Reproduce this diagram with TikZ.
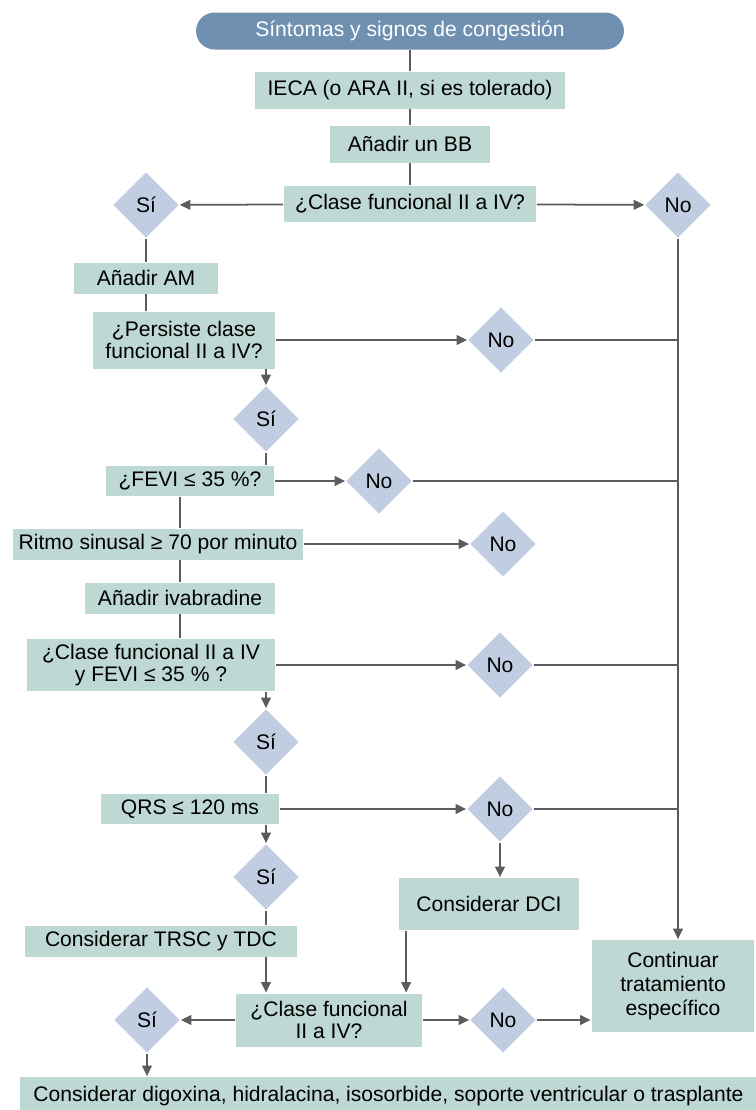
\documentclass[tikz,border=0pt]{standalone}
\usepackage{fontspec}
\setmainfont{Liberation Sans}
\usetikzlibrary{shapes.geometric,arrows.meta}
\definecolor{boxgreen}{RGB}{190,216,212}
\definecolor{diamblue}{RGB}{193,205,224}
\definecolor{pillblue}{RGB}{112,144,177}
\definecolor{linegray}{RGB}{92,92,94}
\begin{document}
\begin{tikzpicture}[x=0.02cm,y=-0.02cm,line width=1pt,draw=linegray,
    >={Triangle[length=6pt,width=5.5pt]},
    every node/.style={font=\fontsize{12}{12.8}\selectfont,inner sep=0pt,align=center},
    proc node/.style={rectangle,fill=boxgreen,text=black},
    dec node/.style={diamond,aspect=1,fill=diamblue,minimum width=1.32cm,minimum height=1.32cm},
    top node/.style={rectangle,rounded corners=0.37cm,fill=pillblue,text=white}]
    \useasboundingbox (0,0) rectangle (755,1110);

    \node[top node,minimum width=8.56cm,minimum height=0.74cm] at (410,31) (start) {Síntomas y signos de congestión};
    \node[proc node,minimum width=6.22cm,minimum height=0.74cm] at (410,90) (ieca) {IECA (o ARA II, si es tolerado)};
    \node[proc node,minimum width=3.22cm,minimum height=0.74cm] at (410,144) (bb) {Añadir un BB};
    \node[proc node,minimum width=5.04cm,minimum height=0.72cm] at (410,204) (clase1) {¿Clase funcional II a IV?};
    \node[dec node] at (146,205) (si1) {Sí};
    \node[dec node] at (678,205) (no1) {No};
    \node[proc node,minimum width=2.9cm,minimum height=0.62cm] at (146,278) (am) {Añadir AM};
    \node[proc node,minimum width=3.64cm,minimum height=1.14cm] at (184,340) (persist) {¿Persiste clase\\funcional II a IV?};
    \node[dec node] at (501,340) (no2) {No};
    \node[dec node] at (266,419) (si2) {Sí};
    \node[proc node,minimum width=3.38cm,minimum height=0.6cm] at (190,481) (fevi) {¿FEVI ≤ 35 \%?};
    \node[dec node] at (379,481) (no3) {No};
    \node[proc node,minimum width=5.8cm,minimum height=0.62cm] at (158,544) (ritmo) {Ritmo sinusal ≥ 70 por minuto};
    \node[dec node] at (503,544) (no4) {No};
    \node[proc node,minimum width=3.8cm,minimum height=0.62cm] at (180,598) (iva) {Añadir ivabradine};
    \node[proc node,minimum width=4.98cm,minimum height=1.04cm] at (151,665) (clase2) {¿Clase funcional II a IV\\y FEVI ≤ 35 \% ?};
    \node[dec node] at (500,665) (no5) {No};
    \node[dec node] at (266,742) (si3) {Sí};
    \node[proc node,minimum width=3.56cm,minimum height=0.6cm] at (190,809) (qrs) {QRS ≤ 120 ms};
    \node[dec node] at (500,809) (no6) {No};
    \node[dec node] at (266,877) (si4) {Sí};
    \node[proc node,minimum width=3.6cm,minimum height=1.04cm] at (489,904) (dci) {Considerar DCI};
    \node[proc node,minimum width=5.46cm,minimum height=0.62cm] at (161,941) (trsc) {Considerar TRSC y TDC};
    \node[proc node,minimum width=3.72cm,minimum height=1.06cm] at (329,1020) (clase3) {¿Clase funcional\\II a IV?};
    \node[dec node] at (147,1020) (si5) {Sí};
    \node[dec node] at (503,1020) (no7) {No};
    \node[proc node,minimum width=3.26cm,minimum height=1.84cm,font=\fontsize{12}{13.7}\selectfont] at (673,986) (cont) {Continuar\\tratamiento\\específico};
    \node[proc node,minimum width=14.74cm,minimum height=0.76cm] at (388.5,1096) (final) {Considerar digoxina, hidralacina, isosorbide, soporte ventricular o trasplante};

    \draw (start) -- (ieca);
    \draw (ieca) -- (bb);
    \draw (bb) -- (clase1);
    \draw[->] (clase1) -- (si1);
    \draw[->] (clase1) -- (no1);
    \draw (si1) -- (am);
    \draw (am.south) -- (am.south |- persist.north);
    \draw[->] (persist) -- (no2);
    \draw (no2.east) -- (no2 -| no1);
    \draw[->] (persist.south -| si2) -- (si2.north);
    \draw (si2.south) -- (si2 |- fevi.north);
    \draw[->] (fevi) -- (no3);
    \draw (no3.east) -- (no3 -| no1);
    \draw (fevi.south -| iva) -- (ritmo.north -| iva);
    \draw[->] (ritmo) -- (no4);
    \draw (ritmo.south -| iva) -- (iva.north);
    \draw (iva.south) -- (iva |- clase2.north);
    \draw[->] (clase2) -- (no5);
    \draw (no5.east) -- (no5 -| no1);
    \draw[->] (clase2.south -| si3) -- (si3.north);
    \draw (si3.south) -- (si3 |- qrs.north);
    \draw[->] (qrs) -- (no6);
    \draw (no6.east) -- (no6 -| no1);
    \draw[->] (no6.south) -- (no6 |- dci.north);
    \draw[->] (qrs.south -| si4) -- (si4.north);
    \draw (si4.south) -- (si4 |- trsc.north);
    \draw[->] (trsc.south -| si4) -- (clase3.north -| si4);
    \draw[->] ([xshift=0.16cm]dci.south west) -- ([xshift=0.16cm]dci.south west |- clase3.north);
    \draw[->] (clase3) -- (si5);
    \draw[->] (si5.south) -- (si5 |- final.north);
    \draw[->] (clase3) -- (no7);
    \draw[->] (no7.east) -- (cont.west |- no7);
    \draw[->] (no1.south) -- (no1 |- cont.north);
\end{tikzpicture}
\end{document}
